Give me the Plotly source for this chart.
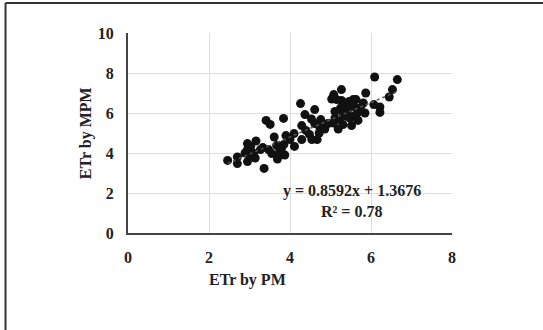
import plotly.graph_objects as go

# Data (ETr by PM, ETr by MPM)
etr_pm = [2.46, 2.70, 2.70, 2.95, 2.95, 2.95, 3.03, 3.10, 3.16, 3.02, 3.14, 3.36, 3.33, 3.41,
          3.51, 3.47, 3.55, 3.61, 3.67, 3.69, 3.74, 3.84, 3.85, 3.87, 3.90, 3.79, 4.11, 4.10,
          4.26, 4.29, 4.29, 4.37, 4.39, 4.48, 4.54, 4.61, 4.61, 4.67, 4.72, 4.76, 4.78, 4.86,
          4.94, 5.03, 5.08, 5.11, 5.19, 5.22, 5.27, 5.27, 5.25, 5.31, 5.36, 5.40, 5.44, 5.46,
          5.52, 5.56, 5.58, 5.63, 5.66, 5.68, 5.74, 5.85, 5.87, 6.09, 6.07, 6.22, 6.22, 6.45,
          6.53, 6.65, 5.15, 5.48, 5.31, 5.11, 5.81, 5.07, 4.74, 4.00, 3.27, 2.89, 5.56, 4.53]
etr_mpm = [3.63, 3.80, 3.47, 3.57, 4.47, 4.17, 4.33, 4.00, 4.60, 3.83, 3.75, 3.23, 4.27, 5.63,
           5.43, 4.17, 3.97, 4.80, 4.37, 3.70, 4.03, 5.73, 4.43, 3.90, 4.87, 4.23, 4.33, 4.97,
           6.47, 5.37, 4.67, 5.92, 5.13, 4.93, 4.67, 6.17, 5.47, 4.67, 5.00, 5.67, 5.37, 5.20,
           5.47, 6.70, 6.92, 5.75, 5.20, 5.67, 7.17, 6.63, 6.25, 5.97, 6.33, 5.83, 6.17, 6.58,
           5.37, 5.83, 6.33, 6.67, 6.00, 5.63, 6.25, 6.00, 7.00, 7.80, 6.42, 6.30, 6.03, 6.80,
           7.17, 7.67, 6.67, 5.75, 5.42, 6.08, 6.50, 5.50, 5.25, 4.67, 4.17, 4.00, 6.67, 5.70]

slope = 0.8592
intercept = 1.3676
r2 = 0.78

x_ticks = [0, 2, 4, 6, 8]
y_ticks = [0, 2, 4, 6, 8, 10]

FONT = "Liberation Serif"
TXT = "#222222"
FS = 16

xmin, xmax = min(etr_pm), max(etr_pm)
trend_x = [xmin, xmax]
trend_y = [slope * v + intercept for v in trend_x]

fig = go.Figure()
fig.add_trace(go.Scatter(x=etr_pm, y=etr_mpm, mode="markers",
                         marker=dict(color="#111111", size=9), showlegend=False))
fig.add_trace(go.Scatter(x=trend_x, y=trend_y, mode="lines",
                         line=dict(color="#555555", width=1.5, dash="dot"), showlegend=False))

bold = dict(family=FONT, size=FS, color=TXT, weight="bold")

fig.update_layout(
    width=543, height=330,
    margin=dict(l=128, r=91, t=33, b=97),
    paper_bgcolor="white", plot_bgcolor="white",
    font=dict(family=FONT, color=TXT, size=FS),
    xaxis=dict(range=[0, 8], tickvals=x_ticks, showgrid=True, gridcolor="#dedede", gridwidth=1,
               zeroline=False, showline=True, linecolor="#444444", linewidth=2,
               tickfont=bold, ticklabelstandoff=9, fixedrange=True),
    yaxis=dict(range=[0, 10], tickvals=y_ticks, showgrid=True, gridcolor="#dedede", gridwidth=1,
               zeroline=False, showline=True, linecolor="#444444", linewidth=2,
               tickfont=bold, ticklabelstandoff=9, fixedrange=True),
    annotations=[
        dict(text="ETr by PM", xref="paper", yref="paper", x=0.37, y=-0.235,
             xanchor="center", yanchor="middle", showarrow=False, font=bold),
        dict(text="ETr by MPM", xref="paper", yref="paper", x=-0.129, y=0.5, textangle=-90,
             xanchor="center", yanchor="middle", showarrow=False, font=bold),
        dict(text=f"y = {slope}x + {intercept}", xref="x", yref="y", x=5.52, y=2.1,
             xanchor="center", yanchor="middle", showarrow=False, font=bold),
        dict(text=f"R² = {r2}", xref="x", yref="y", x=5.52, y=1.08,
             xanchor="center", yanchor="middle", showarrow=False, font=bold),
    ],
    shapes=[
        dict(type="line", xref="paper", yref="paper", x0=-0.378, x1=1.3, y0=1.15, y1=1.15,
             line=dict(color="#333333", width=2)),
        dict(type="line", xref="paper", yref="paper", x0=-0.378, x1=-0.378, y0=1.15, y1=-0.5,
             line=dict(color="#333333", width=2)),
    ],
)

fig.write_html("out.html", config={"displayModeBar": False},
               post_script="document.body.style.margin='0';")
